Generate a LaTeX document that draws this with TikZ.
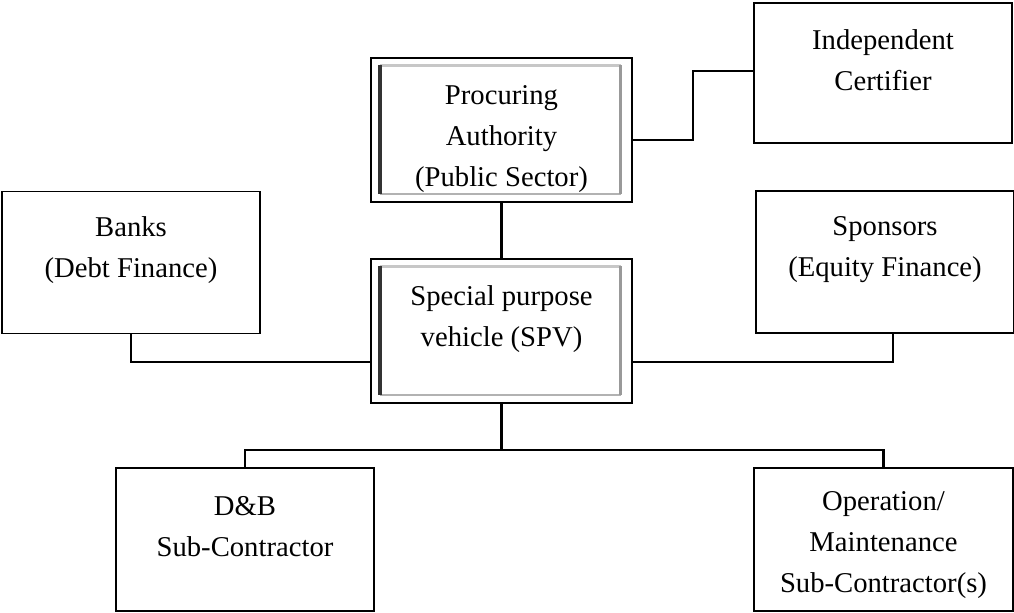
\documentclass[tikz,border=0pt]{standalone}
\usepackage{fontspec}
\setmainfont{Liberation Serif}
\usepackage{tikz}

\tikzset{
  plain/.style={draw, line width=1.1pt, inner sep=0pt},
  bevel/.style={draw, line width=2.2pt, inner sep=0pt, path picture={
    \draw[line width=1.8pt, black!22] ([shift={(6.5pt,-5.5pt)}]path picture bounding box.north west) -- ([shift={(-8.5pt,-5.5pt)}]path picture bounding box.north east);
    \draw[line width=1.8pt, black!30] ([shift={(6.5pt,6pt)}]path picture bounding box.south west) -- ([shift={(-8.5pt,6pt)}]path picture bounding box.south east);
    \draw[line width=2.4pt, black!80] ([shift={(6.8pt,-5.5pt)}]path picture bounding box.north west) -- ([shift={(6.8pt,6pt)}]path picture bounding box.south west);
    \draw[line width=2.6pt, black!40] ([shift={(-8.5pt,-5.5pt)}]path picture bounding box.north east) -- ([shift={(-8.5pt,6pt)}]path picture bounding box.south east);
  }},
  txt/.style={anchor=north, align=center, inner sep=0pt,
    font=\fontsize{21.5}{30.75}\selectfont},
  link/.style={line width=1.6pt}
}

\begin{document}
\begin{tikzpicture}[x=0.75pt, y=-0.75pt]
\useasboundingbox (0,0) rectangle (1014,612);

\node[bevel, minimum width=195.75pt, minimum height=108pt] (proc) at (501.5,130) {};
\node[bevel, minimum width=195.75pt, minimum height=108pt] (spv) at (501.5,331) {};
\node[plain, minimum width=193.5pt, minimum height=105pt] (cert) at (883,73) {};
\node[plain, minimum width=193.5pt, minimum height=106.5pt] (banks) at (131,262.5) {};
\node[plain, minimum width=193.5pt, minimum height=106.5pt] (spons) at (885,262) {};
\node[plain, minimum width=193.5pt, minimum height=107pt] (db) at (245,539.5) {};
\node[plain, minimum width=194.25pt, minimum height=107pt] (om) at (883.5,539.5) {};

% box texts
\node[txt] (proc-t) at ([yshift=-21.5pt]proc.north) {Procuring\\Authority\\(Public Sector)};
\node[txt] (spv-t) at ([yshift=-21pt]spv.north) {Special purpose\\vehicle (SPV)};
\node[txt] (cert-t) at ([yshift=-20.5pt]cert.north) {Independent\\Certifier};
\node[txt] (banks-t) at ([yshift=-19.5pt]banks.north) {Banks\\(Debt Finance)};
\node[txt] (spons-t) at ([yshift=-19.5pt]spons.north) {Sponsors\\(Equity Finance)};
\node[txt] (db-t) at ([yshift=-21.5pt]db.north) {D\&B\\Sub-Contractor};
\node[txt] (om-t) at ([yshift=-17.5pt]om.north) {Operation/\\Maintenance\\Sub-Contractor(s)};

\coordinate (cj) at (693,71);
\coordinate (bus) at (501.5,450);

\draw[link] (proc) -- (spv);
\draw[link] (proc.east) ++(0,10) -| (cj) -- (cj -| cert.west);
\draw[link] (banks.south) |- ([yshift=-23.25pt]spv.west);
\draw[link] ([xshift=6pt]spons.south) |- ([yshift=-23.25pt]spv.east);
\draw[link] (spv) -- (bus);
\draw[link] (db.north) |- (bus) -| (om.north);
\end{tikzpicture}
\end{document}
